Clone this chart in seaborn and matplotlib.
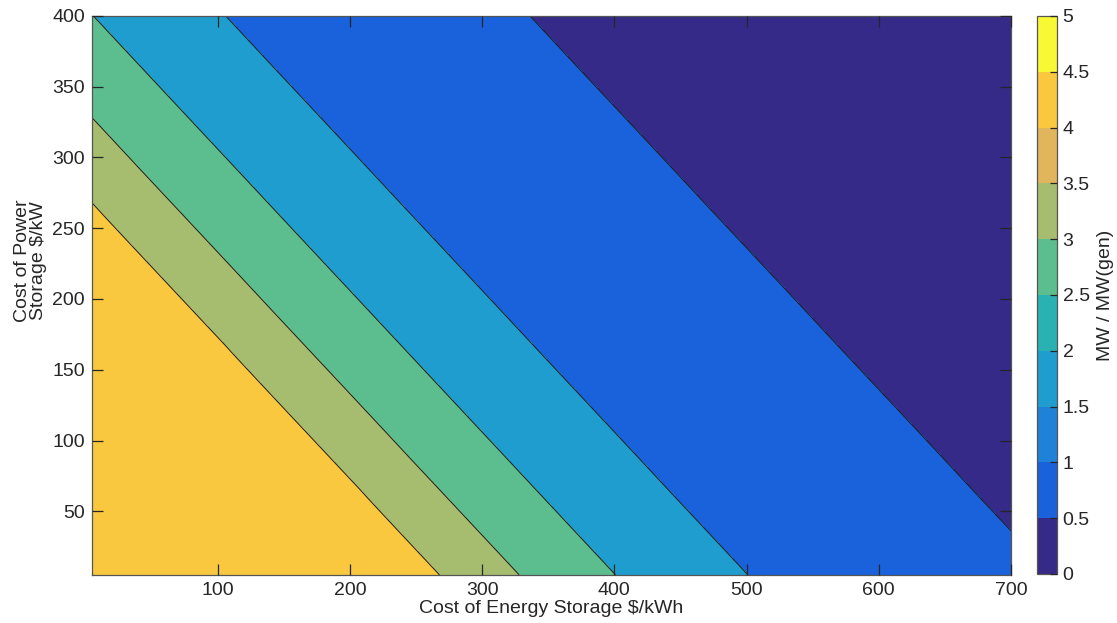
import numpy as np
import pandas as pd
import matplotlib
matplotlib.use("Agg")
import matplotlib.pyplot as plt
import seaborn as sns
from matplotlib.colors import ListedColormap, BoundaryNorm
from matplotlib.cm import ScalarMappable

# values
# the field is constant along x + y; contour levels and where they cross
sum_points = [10, 273, 333, 406, 506, 736, 1100]       # x + y ($/kWh + $/kW)
value_points = [4.4, 4.0, 3.0, 2.5, 1.5, 0.5, 0.1]     # MW / MW(gen)
contour_levels = [0.5, 1.5, 2.5, 3.0, 4.0]
x_range = [5, 700]
y_range = [5, 400]
x_ticks = [100, 200, 300, 400, 500, 600, 700]
y_ticks = [50, 100, 150, 200, 250, 300, 350, 400]
cbar_bounds = [0, 0.5, 1, 1.5, 2, 2.5, 3, 3.5, 4, 4.5, 5]

# parula-like 10 colour map
parula10 = ["#352A87", "#1A62DC", "#1F82D8", "#1F9DCF", "#2AB2B2",
            "#5CBE8E", "#A6BD6F", "#E0B55C", "#F9C83F", "#F8F834"]

sns.set_theme(style="ticks")
plt.rcParams['font.family'] = ['Liberation Sans', 'DejaVu Sans']
plt.rcParams['axes.axisbelow'] = False

cmap = ListedColormap(parula10)
norm = BoundaryNorm(cbar_bounds, cmap.N)

xs = np.linspace(x_range[0], x_range[1], 1400)
ys = np.linspace(y_range[0], y_range[1], 800)
X, Y = np.meshgrid(xs, ys)
Z = np.interp(X + Y, sum_points, value_points)

fs = 14
tc = '#262626'

fig = plt.figure(figsize=(11.17, 6.23), dpi=100)
ax = fig.add_axes([0.0824, 0.0771, 0.8227, 0.8973])
ax.set_axisbelow(False)

fill_levels = [0] + contour_levels + [5]
# fill each band with the colour of its lower level (MATLAB convention)
band_colors = [cmap(norm(l)) for l in fill_levels[:-1]]
ax.contourf(X, Y, Z, levels=fill_levels, colors=band_colors)
ax.contour(X, Y, Z, levels=contour_levels, colors='k', linewidths=0.7)

ax.set_xlim(x_range)
ax.set_ylim(y_range)
ax.set_xticks(x_ticks)
ax.set_yticks(y_ticks)
ax.tick_params(direction='in', length=8, width=0.9, color=tc,
               bottom=True, left=True, top=True, right=True,
               labelsize=fs, labelcolor=tc, pad=5)
for sp in ax.spines.values():
    sp.set_visible(True)
    sp.set_linewidth(0.9)
    sp.set_color('#555555')
ax.set_xlabel("Cost of Energy Storage $/kWh", fontsize=fs, color=tc, labelpad=1)
ax.set_ylabel("Cost of Power\nStorage $/kW", fontsize=fs, color=tc,
              linespacing=0.95)
ax.yaxis.set_label_coords(-0.049, 0.563)

cax = fig.add_axes([0.9284, 0.0787, 0.0179, 0.8957])
sm = ScalarMappable(norm=norm, cmap=cmap)
cb = fig.colorbar(sm, cax=cax, ticks=cbar_bounds)
cb.ax.set_axisbelow(False)
cb.set_ticklabels(["0", "0.5", "1", "1.5", "2", "2.5", "3", "3.5", "4", "4.5", "5"])
cb.ax.tick_params(direction='in', length=5, width=0.9, color=tc, right=True,
                  labelsize=fs, labelcolor=tc, pad=4)
cb.outline.set_linewidth(0.9)
cb.outline.set_edgecolor('#555555')
cb.set_label("MW / MW(gen)", fontsize=fs, color=tc, labelpad=5)

fig.savefig("out.png", dpi=100)
